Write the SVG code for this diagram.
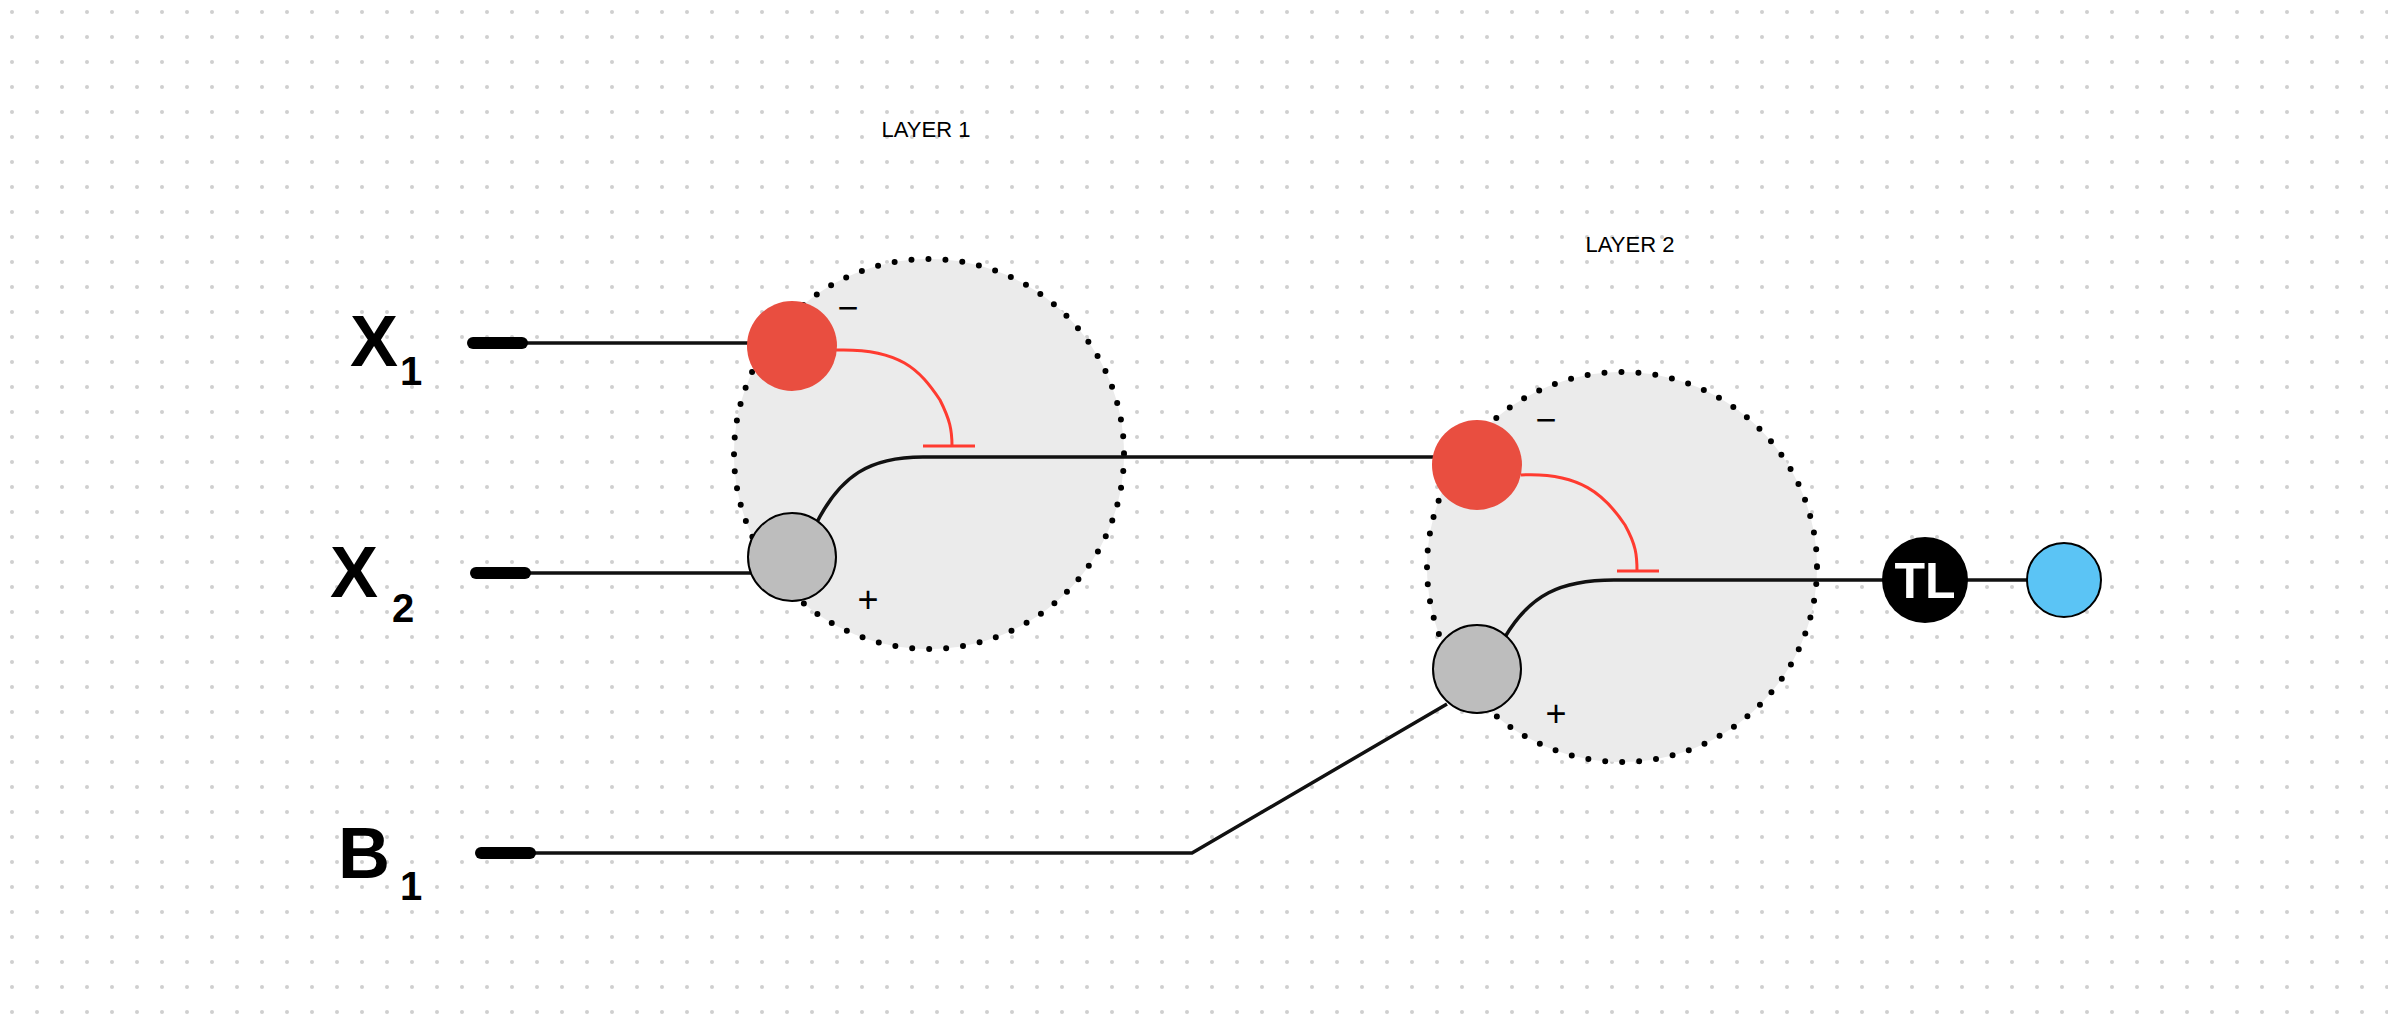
<svg xmlns="http://www.w3.org/2000/svg" width="2388" height="1023" viewBox="0 0 2388 1023">
<defs>
<pattern id="grid" width="25" height="25" patternUnits="userSpaceOnUse"><circle cx="12" cy="12" r="2" fill="#cfcfcf"/></pattern>
<style>
.layer{fill:#ebebeb;stroke:#000;stroke-width:6;stroke-dasharray:0 17;stroke-linecap:round}
.red{fill:#e94e40}
.gray{fill:#bdbdbd;stroke:#000;stroke-width:2}
.w{fill:none;stroke:#111;stroke-width:3.5}
.inh{fill:none;stroke:#ff3b30;stroke-width:3}
.bar{stroke:#000;stroke-width:12;stroke-linecap:round}
.hand{font-family:"Liberation Sans",sans-serif;fill:#000}
.big{font-size:72px;font-weight:bold}
.sub{font-size:40px;font-weight:bold}
.lbl{font-size:22px}
.sign{font-size:36px}
</style>
</defs>
<rect width="2388" height="1023" fill="#fff"/>
<rect width="2388" height="1023" fill="url(#grid)"/>
<g id="layer1"><circle class="layer" cx="929" cy="454" r="195"/><text class="hand lbl" x="926" y="137" text-anchor="middle">LAYER 1</text></g>
<g id="layer2"><circle class="layer" cx="1622" cy="567" r="195"/><text class="hand lbl" x="1630" y="252" text-anchor="middle">LAYER 2</text></g>
<g id="connectors">
<line class="w" x1="525" y1="343" x2="760" y2="343"/>
<line class="w" x1="528" y1="573" x2="760" y2="573"/>
<polyline class="w" points="533,853 1192,853 1447,704"/>
<path class="w" d="M815,526 C840,475 870,457 923,457 L1440,457"/>
<path class="w" d="M1505,637 C1530,595 1560,580 1614,580 L1890,580"/>
<line class="w" x1="1960" y1="580" x2="2030" y2="580"/>
<path class="inh" d="M836,350 C900,348 920,370 940,400 C950,420 952,430 952,446"/>
<line class="inh" x1="923" y1="446" x2="975" y2="446"/>
<path class="inh" d="M1521,475 C1580,472 1605,495 1625,525 C1636,545 1637,555 1637,571"/>
<line class="inh" x1="1617" y1="571" x2="1659" y2="571"/>
</g>
<g id="x1"><line class="bar" x1="473" y1="343" x2="522" y2="343"/><text class="hand big" x="350" y="366">X</text><text class="hand sub" x="400" y="385">1</text></g>
<g id="x2"><line class="bar" x1="476" y1="573" x2="525" y2="573"/><text class="hand big" x="330" y="597">X</text><text class="hand sub" x="392" y="622">2</text></g>
<g id="b1"><line class="bar" x1="481" y1="853" x2="530" y2="853"/><text class="hand big" x="338" y="878">B</text><text class="hand sub" x="400" y="900">1</text></g>
<g id="red1"><circle class="red" cx="792" cy="346" r="45"/><text class="hand sign" x="848" y="320" text-anchor="middle">−</text></g>
<g id="gray1"><circle class="gray" cx="792" cy="557" r="44"/><text class="hand sign" x="868" y="612" text-anchor="middle">+</text></g>
<g id="red2"><circle class="red" cx="1477" cy="465" r="45"/><text class="hand sign" x="1546" y="432" text-anchor="middle">−</text></g>
<g id="gray2"><circle class="gray" cx="1477" cy="669" r="44"/><text class="hand sign" x="1556" y="726" text-anchor="middle">+</text></g>
<g id="tl"><circle cx="1925" cy="580" r="43" fill="#000"/><text class="hand" x="1925" y="598" text-anchor="middle" font-size="50" font-weight="bold" style="fill:#fff">TL</text></g>
<g id="out"><circle cx="2064" cy="580" r="37" fill="#5bc4f5" stroke="#000" stroke-width="2"/></g>
</svg>
